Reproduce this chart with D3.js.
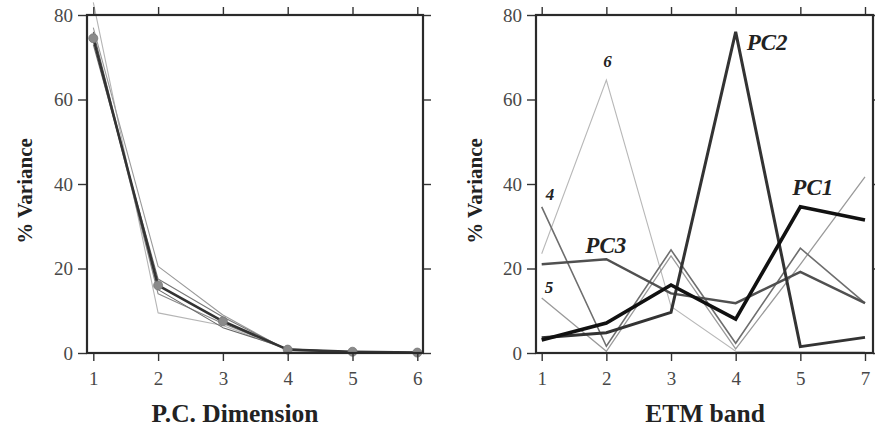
<!DOCTYPE html>
<html>
<head>
<meta charset="utf-8">
<script src="https://cdn.jsdelivr.net/npm/d3@7/dist/d3.min.js"></script>
<style>
  html, body { margin: 0; padding: 0; background: #fff; }
  svg { display: block; }
</style>
</head>
<body>
<svg id="chart" width="875" height="432"></svg>
<script>
// ---- Left panel: scree curves (% variance per principal component) ----
const pcDims = [1, 2, 3, 4, 5, 6];
const screeThin = [
  [83, 9.5, 6.5, 0.8, 0.2, 0.1],
  [77, 20.5, 9, 0.6, 0.2, 0.1],
  [75, 14, 7, 0.9, 0.3, 0.1],
  [73, 17.5, 8.5, 0.7, 0.3, 0.1],
  [76, 15, 6, 1.0, 0.2, 0.1]
];
const screeThinColors = ["#b5b5b5", "#9a9a9a", "#888", "#777", "#666"];
const screeMain = [74.5, 16, 7.5, 0.8, 0.3, 0.1];

// ---- Right panel: loadings of each PC across ETM bands ----
const bands = ["1", "2", "3", "4", "5", "7"];
const pc1 = [3.1, 7.1, 16.1, 8.0, 34.6, 31.5];
const pc2 = [3.6, 4.8, 9.6, 76.0, 1.5, 3.7];
const pc3 = [21.0, 22.2, 14.1, 11.8, 19.2, 11.8];
const pc4 = [34.6, 1.6, 24.4, 2.3, 24.8, 11.8];
const pc5 = [13.0, 0.4, 23.0, 1.0, 21.0, 41.7];
const pc6 = [23.5, 64.6, 11.0, 0.4, 0.3, 0.2];

const yTicks = [0, 20, 40, 60, 80];

const FONT = "Liberation Serif";
const svg = d3.select("#chart");

const y = d3.scaleLinear().domain([0, 80]).range([353, 15]);

function frame(g, x0, x1, xAxisScale, tickVals, tickFmt) {
  const top = y(80), bottom = y(0);
  // outward ticks on all four sides
  g.append("g").attr("transform", `translate(0,${bottom})`)
    .call(d3.axisBottom(xAxisScale).tickValues(tickVals).tickFormat(tickFmt).tickSize(8).tickPadding(11))
    .call(a => a.select(".domain").remove());
  g.append("g").attr("transform", `translate(0,${top})`)
    .call(d3.axisTop(xAxisScale).tickValues(tickVals).tickFormat("").tickSize(8))
    .call(a => a.select(".domain").remove());
  g.append("g").attr("transform", `translate(${x0},0)`)
    .call(d3.axisLeft(y).tickValues(yTicks).tickSize(9).tickPadding(5))
    .call(a => a.select(".domain").remove());
  g.append("g").attr("transform", `translate(${x1},0)`)
    .call(d3.axisRight(y).tickValues(yTicks).tickFormat("").tickSize(8))
    .call(a => a.select(".domain").remove());
  g.selectAll(".tick text").attr("font-family", FONT).attr("font-size", 19).attr("fill", "#484848");
  g.selectAll(".tick line").attr("stroke", "#333").attr("stroke-width", 1.4);
  g.append("rect").attr("x", x0).attr("y", top).attr("width", x1 - x0).attr("height", bottom - top)
    .attr("fill", "none").attr("stroke", "#2a2a2a").attr("stroke-width", 2.2);
}

function title(g, txt, x, yy, rot, size) {
  g.append("text").attr("transform", `translate(${x},${yy}) rotate(${rot})`)
    .attr("text-anchor", "middle").attr("font-family", FONT).attr("font-weight", "bold")
    .attr("font-size", size).attr("fill", "#222").text(txt);
}

// Left panel
const xL = d3.scaleLinear().domain([1, 6]).range([93.3, 417.3]);
const left = svg.append("g");
const lineL = d3.line().x((d, i) => xL(pcDims[i])).y(d => y(d));
screeThin.forEach((s, k) => {
  left.append("path").datum(s).attr("d", lineL)
    .attr("fill", "none").attr("stroke", screeThinColors[k]).attr("stroke-width", 1.1)
    .attr("stroke-linejoin", "round");
});
left.append("path").datum(screeMain).attr("d", lineL)
  .attr("fill", "none").attr("stroke", "#333").attr("stroke-width", 2.6).attr("stroke-linejoin", "round");
left.selectAll("circle.pt").data(screeMain).join("circle").attr("class", "pt")
  .attr("cx", (d, i) => xL(pcDims[i])).attr("cy", d => y(d)).attr("r", 4.5)
  .attr("fill", "#8a8a8a").attr("stroke", "#777").attr("stroke-width", 0.8);
frame(left, 87, 423, xL, pcDims, d3.format("d"));

title(left, "P.C. Dimension", 235, 422, 0, 25.5);
title(left, "% Variance", 32, 191, -90, 21);

// Right panel
const xR = d3.scalePoint().domain(bands).range([541.7, 865]);
const right = svg.append("g");
const lineR = d3.line().x((d, i) => xR(bands[i])).y(d => y(d));
const pcSeries = [
  { v: pc6, c: "#b8b8b8", w: 1.1 },
  { v: pc5, c: "#9a9a9a", w: 1.3 },
  { v: pc4, c: "#6e6e6e", w: 1.6 },
  { v: pc3, c: "#505050", w: 2.4 },
  { v: pc2, c: "#333", w: 3.0 },
  { v: pc1, c: "#111", w: 3.6 }
];
pcSeries.forEach(s => {
  right.append("path").datum(s.v).attr("d", lineR)
    .attr("fill", "none").attr("stroke", s.c).attr("stroke-width", s.w).attr("stroke-linejoin", "miter");
});
frame(right, 536, 873, xR, bands, d => d);

// series labels
const labels = [
  { t: "PC1", b: "5", v: pc1[4], dx: -8, dy: -12, s: 23 },
  { t: "PC2", b: "4", v: pc2[3], dx: 11, dy: 18, s: 23 },
  { t: "PC3", b: "2", v: pc3[1], dx: -21, dy: -6, s: 23 },
  { t: "4", b: "1", v: pc4[0], dx: 4, dy: -7, s: 17 },
  { t: "5", b: "1", v: pc5[0], dx: 3, dy: -5, s: 17 },
  { t: "6", b: "2", v: pc6[1], dx: -3, dy: -13, s: 17 }
];
labels.forEach(l => {
  right.append("text")
    .attr("x", xR(l.b) + l.dx).attr("y", y(l.v) + l.dy)
    .attr("font-family", FONT).attr("font-weight", "bold").attr("font-style", "italic")
    .attr("font-size", l.s).attr("fill", "#222").text(l.t);
});

title(right, "ETM band", 705, 422, 0, 25.5);
title(right, "% Variance", 482, 191, -90, 21);
</script>
</body>
</html>
